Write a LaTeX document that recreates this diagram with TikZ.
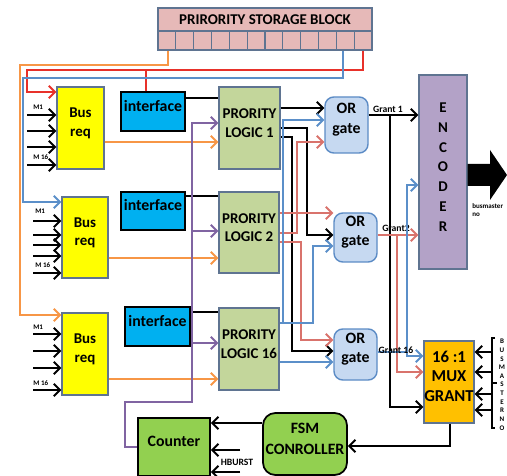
\documentclass[tikz,border=0pt]{standalone}
\usepackage{fontspec}
\setmainfont{Carlito}
\usetikzlibrary{arrows.meta,fit,calc}
\definecolor{psbfill}{HTML}{E6B9B8}
\definecolor{edgegrey}{HTML}{5F7491}
\definecolor{busyel}{HTML}{FFFF00}
\definecolor{ifblue}{HTML}{00B0F0}
\definecolor{logicgreen}{HTML}{C3D69B}
\definecolor{orfill}{HTML}{C6D9F1}
\definecolor{oredge}{HTML}{5B8BC5}
\definecolor{encpurple}{HTML}{B3A2C7}
\definecolor{muxorange}{HTML}{FFC000}
\definecolor{fsmgreen}{HTML}{92D050}
\definecolor{worange}{HTML}{F79646}
\definecolor{wred}{HTML}{E8312A}
\definecolor{wsalmon}{HTML}{D9736C}
\definecolor{wblue}{HTML}{5B8FC9}
\definecolor{wpurple}{HTML}{8064A2}
\begin{document}
\begin{tikzpicture}[x=0.02cm,y=-0.02cm,
  box/.style={draw=edgegrey, line width=0.8pt, inner sep=0pt, align=center, font=\bfseries\fontsize{8.5}{10.5}\selectfont},
  busbox/.style={box, fill=busyel},
  ifbox/.style={box, draw=black, fill=ifblue, font=\bfseries\fontsize{9}{10.5}\selectfont},
  logicbox/.style={box, fill=logicgreen},
  orbox/.style={box, draw=oredge, fill=orfill, rounded corners=5pt, font=\bfseries\fontsize{9}{11}\selectfont},
  encbox/.style={box, fill=encpurple, font=\bfseries\fontsize{8.5}{11.3}\selectfont},
  muxbox/.style={box, fill=muxorange, font=\bfseries\fontsize{9.5}{11.3}\selectfont},
  fsmbox/.style={box, draw=black, line width=1pt, fill=fsmgreen, rounded corners=7pt, font=\bfseries\fontsize{9}{11.5}\selectfont},
  cntbox/.style={box, draw=black, line width=1pt, fill=fsmgreen, font=\bfseries\fontsize{9}{11}\selectfont},
  wire/.style={line width=1.1pt},
  arr/.style={-{Straight Barb[length=3.5pt,width=7pt]}},
  blk/.style={wire, black},
  org/.style={wire, worange},
  redw/.style={wire, wred},
  salw/.style={wire, wsalmon},
  bluw/.style={wire, wblue},
  purw/.style={wire, wpurple},
  tiny/.style={font=\bfseries\fontsize{4}{4.5}\selectfont, inner sep=0pt},
  small/.style={font=\bfseries\fontsize{5.5}{6}\selectfont, inner sep=0pt}
]
\useasboundingbox (0,0) rectangle (507,476);

% storage block
\node[box, fill=psbfill, fit={(158,8)(372,50)}] (psb) {};
\node[font=\bfseries\fontsize{8.5}{9}\selectfont, inner sep=0pt] (psbt) at (265,20) {PRIRORITY STORAGE BLOCK};
\draw[edgegrey, line width=0.6pt] (psb.west |- 0,31) -- (psb.east |- 0,31);
\foreach \i in {1,...,11} {
  \pgfmathsetmacro\cx{158+\i*214/12}
  \draw[edgegrey, line width=0.6pt] (\cx,31) -- (\cx,50);
}

% blocks
\node[busbox, fit={(57,87)(104,169)}] (br1) {Bus\\req};
\node[busbox, fit={(62,197)(108,278)}] (br2) {Bus\\req};
\node[busbox, fit={(62,313)(108,395)}] (br3) {Bus\\req};
\node[ifbox, fit={(121,92)(185,131)}] (if1) {interface};
\node[ifbox, fit={(121,192)(185,230)}] (if2) {interface};
\node[ifbox, fit={(125,307)(190,346)}] (if3) {interface};
\node[logicbox, fit={(219,87)(280,169)}] (pl1) {PRORITY\\LOGIC 1};
\node[logicbox, fit={(219,192)(279,273)}] (pl2) {PRORITY\\LOGIC 2};
\node[logicbox, fit={(219,308)(279,390)}] (pl3) {PRORITY\\LOGIC 16};
\node[orbox, fit={(325,97)(368,153)}] (or1) {OR\\gate};
\node[orbox, fit={(334,213)(377,262)}] (or2) {OR\\gate};
\node[orbox, fit={(334,329)(377,380)}] (or3) {OR\\gate};
\node[encbox, fit={(419,75)(467,269)}] (enc) {E\\N\\C\\O\\D\\E\\R};
\node[muxbox, fit={(424,341)(474,423)}] (mux) {16 :1\\MUX\\GRANT};
\node[fsmbox, fit={(263,413)(347,475)}] (fsm) {FSM\\CONROLLER};
\node[cntbox, fit={(138,418)(210,476)}] (cnt) {Counter};

% big output arrow
\fill (enc.east |- 0,164) -- (490,164) -- (490,150) -- (507,175) -- (490,200) -- (490,186) -- (enc.east |- 0,186) -- cycle;
\node[tiny, anchor=north west, align=left] (bmn) at (472,203) {busmaster\\no};

% feedback from storage block
\draw[org, arr] (psb.south -| 168,0) |- (20,65) -- (20,315) -- (br3.west |- 0,315);
\draw[redw, arr] (psb.south -| 363,0) |- (27,70) |- (br1.west |- 0,92);
\draw[redw] (if1.north -| 146,0) -- (146,70);
\draw[bluw, arr] (psb.south -| 343,0) |- (23,78) |- (br2.west |- 0,202);

% bus request inputs
\foreach \yy in {115,131,147,165} \draw[blk, arr] (27,\yy) -- (br1.west |- 0,\yy);
\node[tiny, anchor=west] (m1a) at (33,107) {M1};
\node[tiny, anchor=west] (m16a) at (33,157) {M 16};
\foreach \yy in {221,235,245,256,273} \draw[blk, arr] (33,\yy) -- (br2.west |- 0,\yy);
\node[tiny, anchor=west] (m1b) at (35,211) {M1};
\node[tiny, anchor=west] (m16b) at (35,265) {M 16};
\foreach \yy in {334,351,368,390} \draw[blk, arr] (33,\yy) -- (br3.west |- 0,\yy);
\node[tiny, anchor=west] (m1c) at (33,327) {M1};
\node[tiny, anchor=west] (m16c) at (33,383) {M 16};

% interface to logic
\draw[blk] (if1.east |- 0,98) -- (pl1.west |- 0,98);
\draw[blk] (if2.east |- 0,196) -- (pl2.west |- 0,196);
\draw[blk] (if3.east |- 0,312) -- (pl3.west |- 0,312);

% bus req to logic
\draw[org, arr] (br1.east |- 0,142) -- (pl1.west |- 0,142);
\draw[org, arr] (br2.east |- 0,258) -- (pl2.west |- 0,258);
\draw[org, arr] (br3.east |- 0,379) -- (pl3.west |- 0,379);

% counter purple feedback
\draw[purw, arr] (cnt.west |- 0,447) -- (125,447) -- (125,402) -- (192,402) -- (192,123) -- (pl1.west |- 0,123);
\draw[purw, arr] (192,231) -- (pl2.west |- 0,231);
\draw[purw, arr] (192,343) -- (pl3.west |- 0,343);

% logic 1 outputs (black)
\draw[blk, arr] (pl1.east |- 0,108) -- (or1.west |- 0,108);
\draw[blk, arr] (pl1.east |- 0,128) -- (307,128) -- (307,235) -- (or2.west |- 0,235);
\draw[blk, arr] (pl1.east |- 0,137) -- (292,137) -- (292,351) -- (or3.west |- 0,351);
% logic 2 outputs (red)
\draw[salw, arr] (pl2.east |- 0,213) -- (or2.west |- 0,213);
\draw[salw, arr] (pl2.east |- 0,233) -- (297,233) -- (297,142) -- (or1.west |- 0,142);
\draw[salw, arr] (pl2.east |- 0,242) -- (301,242) -- (301,340) -- (or3.west |- 0,340);
% logic 16 outputs (blue)
\draw[bluw, arr] (pl3.east |- 0,323) -- (313,323) -- (313,246) -- (or2.west |- 0,246);
\draw[bluw, arr] (283,323) -- (283,120) -- (or1.west |- 0,120);
\draw[bluw, arr] (pl3.east |- 0,362) -- (or3.west |- 0,362);

% grants
\draw[blk, arr] (or1.east |- 0,115) -- (enc.west |- 0,115);
\node[small] (g1) at (388,109) {Grant 1};
\draw[blk, arr] (390,115) |- (mux.west |- 0,407);
\draw[salw, arr] (or2.east |- 0,235) -- (enc.west |- 0,235);
\node[small] (g2) at (396,228) {Grant2};
\draw[salw, arr] (397,235) |- (mux.west |- 0,372);
\draw[bluw] (or3.east |- 0,352) -- (407,352);
\draw[bluw, arr] (407,352) |- (mux.west |- 0,356);
\draw[bluw, arr] (407,352) |- (enc.west |- 0,185);
\node[small] (g16) at (396,350) {Grant 16};

% mux select inputs with brace
\foreach \yy in {352,372,394,410} \draw[blk, arr] (492,\yy) -- (mux.east |- 0,\yy);
\draw[blk, line width=1pt] (495,338) -- (492,338) -- (492,428) -- (495,428);
\draw[blk, line width=1pt] (492,383) -- (497,383);
\node[tiny, anchor=north, align=center, font=\bfseries\fontsize{4}{4.9}\selectfont] (sel) at (502,339) {B\\U\\S\\M\\A\\S\\T\\E\\R\\N\\O};

% controller
\draw[blk, arr] (mux.south -| 450,0) |- (fsm.east |- 0,446);
\draw[blk, arr] (fsm.west |- 0,423) -- (cnt.east |- 0,423);
\draw[blk, arr] (240,450) -- (cnt.east |- 0,450);
\draw[blk, arr] (240,472) -- (cnt.east |- 0,472);
\node[small] (hb) at (237,462) {HBURST};
\end{tikzpicture}
\end{document}
